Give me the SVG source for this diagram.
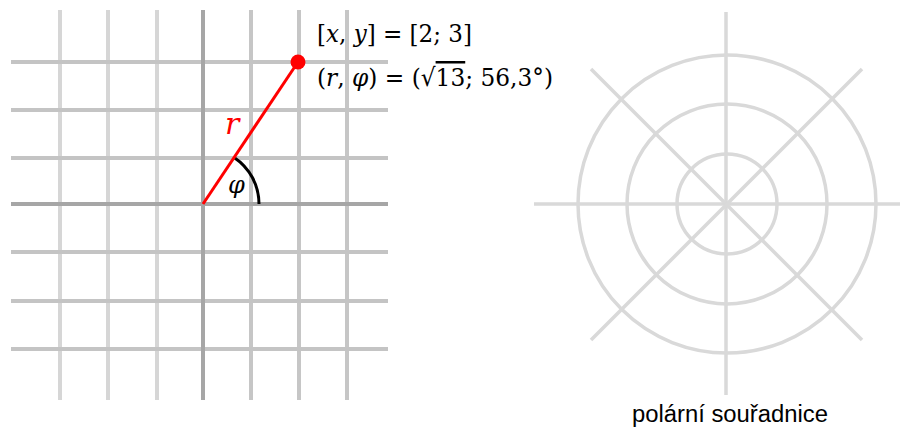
<svg xmlns="http://www.w3.org/2000/svg" width="908" height="430" viewBox="0 0 908 430">
<style>
.vl{stroke:#d6d6d6;stroke-width:4;fill:none}
.vr{stroke:#c6c6c6;stroke-width:4;fill:none}
.h{stroke:#c4c4c4;stroke-width:4;fill:none}
.ax{stroke:#a6a6a6;stroke-width:4;fill:none}
.p{stroke:#d9d9d9;stroke-width:3.5;fill:none}
.m{font-family:"DejaVu Serif","Liberation Serif",serif;font-size:25px;fill:#000}
.i{font-style:italic}
.ov{text-decoration:overline}
</style>
<rect width="908" height="430" fill="#fff"/>
<g id="labels">
<text class="m" x="317" y="42" textLength="155" lengthAdjust="spacingAndGlyphs"><tspan>[</tspan><tspan class="i">x</tspan><tspan>, </tspan><tspan class="i">y</tspan><tspan>] =  [2; 3]</tspan></text>
<text class="m" x="317" y="86" textLength="236" lengthAdjust="spacingAndGlyphs"><tspan>(</tspan><tspan class="i">r</tspan><tspan>, </tspan><tspan class="i">φ</tspan><tspan>) = (√</tspan><tspan class="ov">13</tspan><tspan>; 56,3°)</tspan></text>
</g>
<g id="grid">
<line class="vl" x1="60" y1="10" x2="60" y2="400"/>
<line class="vl" x1="108" y1="10" x2="108" y2="400"/>
<line class="vl" x1="157" y1="10" x2="157" y2="400"/>
<line class="vr" x1="251" y1="10" x2="251" y2="400"/>
<line class="vr" x1="299" y1="10" x2="299" y2="400"/>
<line class="vr" x1="347" y1="10" x2="347" y2="400"/>
<line class="h" x1="11" y1="62" x2="388" y2="62"/>
<line class="h" x1="11" y1="110" x2="388" y2="110"/>
<line class="h" x1="11" y1="158" x2="388" y2="158"/>
<line class="h" x1="11" y1="252" x2="388" y2="252"/>
<line class="h" x1="11" y1="301" x2="388" y2="301"/>
<line class="h" x1="11" y1="349" x2="388" y2="349"/>
<line class="ax" x1="11" y1="204" x2="388" y2="204"/>
<line class="ax" x1="203" y1="10" x2="203" y2="400"/>
</g>
<g id="vector">
<path d="M234.1 157.4 A56 56 0 0 1 259 204" fill="none" stroke="#000" stroke-width="3"/>
<line x1="203" y1="204" x2="298" y2="62" stroke="#f00" stroke-width="3"/>
<circle cx="298" cy="62" r="7.5" fill="#f00"/>
<text class="m i" x="225" y="134" style="font-size:30px;fill:#f00">r</text>
<text class="m i" x="228" y="193" style="font-size:24px">φ</text>
</g>
<g id="polar">
<circle class="p" cx="727" cy="204" r="50"/>
<circle class="p" cx="727" cy="204" r="100"/>
<circle class="p" cx="727" cy="204" r="149"/>
<line class="p" x1="534" y1="204" x2="900" y2="204"/>
<line class="p" x1="726" y1="12" x2="726" y2="395"/>
<line class="p" x1="591" y1="69" x2="862" y2="340"/>
<line class="p" x1="862" y1="69" x2="591" y2="340"/>
<text x="632" y="422" textLength="196" lengthAdjust="spacingAndGlyphs" style="font-family:'Liberation Sans','Noto Sans',sans-serif;font-size:23px;fill:#000">polární souřadnice</text>
</g>
</svg>
